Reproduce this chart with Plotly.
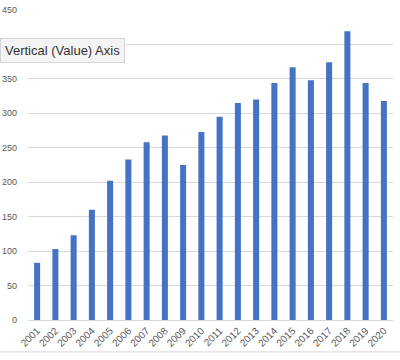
import plotly.graph_objects as go

years = [str(y) for y in range(2001, 2021)]
values = [83, 103, 123, 160, 202, 233, 258, 268, 225, 273,
          295, 315, 320, 344, 367, 348, 374, 419, 344, 318]
y_ticks = [0, 50, 100, 150, 200, 250, 300, 350, 400, 450]
y_tick_text = ["0", "50", "100", "150", "200", "250", "300", "350", "", "450"]

fig = go.Figure()
fig.add_trace(go.Bar(x=years, y=values, marker_color="#4472C4",
                     marker_line_width=0))

fig.update_layout(
    width=400, height=360,
    margin=dict(l=28, r=7, t=10, b=40),
    paper_bgcolor="white", plot_bgcolor="white",
    bargap=0.67,
    showlegend=False,
    font=dict(family="Liberation Sans, Arial, sans-serif", color="#595959", size=9),
    xaxis=dict(type="category", tickangle=-45, showgrid=False, automargin=False,
               showline=True, linecolor="#D9D9D9", linewidth=1,
               ticks="", tickfont=dict(size=10, color="#595959")),
    yaxis=dict(range=[0, 450], tickvals=y_ticks, ticktext=y_tick_text,
               showgrid=True, automargin=False,
               gridcolor="#D9D9D9", gridwidth=1, zeroline=False,
               showline=False, ticks="", ticklabelstandoff=10,
               tickfont=dict(size=9, color="#595959")),
)

fig.add_annotation(
    text="Vertical (Value) Axis", xref="paper", yref="paper",
    x=-0.0767, y=0.868, xanchor="left", yanchor="middle", showarrow=False,
    font=dict(family="Liberation Sans, Arial, sans-serif", size=13, color="#333333"),
    bgcolor="#F4F4F4", bordercolor="#D4D4D4", borderwidth=1, borderpad=4,
)

fig.add_shape(type="line", xref="paper", yref="paper",
              x0=-0.08, x1=1.02, y0=-0.103, y1=-0.103,
              line=dict(color="#D6D6D6", width=1))

fig.write_html("out.html", config={"displayModeBar": False},
               post_script="document.body.style.margin='0';document.body.style.padding='0';")
